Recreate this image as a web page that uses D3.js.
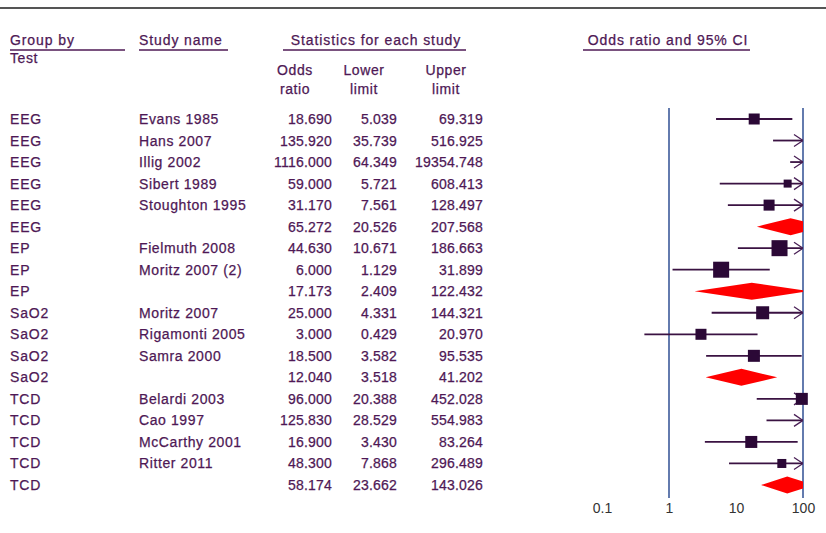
<!DOCTYPE html>
<html>
  <meta charset="utf-8" />
  <head>
    <script src="https://cdnjs.cloudflare.com/ajax/libs/d3/7.8.5/d3.min.js"></script>
    <style>
      body { margin: 0; background: #fff; }
    </style>
  </head>
  <body>
    <script>
    const groups = ["EEG", "EEG", "EEG", "EEG", "EEG", "EEG", "EP", "EP", "EP",
        "SaO2", "SaO2", "SaO2", "SaO2", "TCD", "TCD", "TCD", "TCD", "TCD"];
    const studies = ["Evans 1985", "Hans 2007", "Illig 2002", "Sibert 1989", "Stoughton 1995", "",
        "Fielmuth 2008", "Moritz 2007 (2)", "",
        "Moritz 2007", "Rigamonti 2005", "Samra 2000", "",
        "Belardi 2003", "Cao 1997", "McCarthy 2001", "Ritter 2011", ""];
    const oddsRatio = [18.690, 135.920, 1116.000, 59.000, 31.170, 65.272,
        44.630, 6.000, 17.173,
        25.000, 3.000, 18.500, 12.040,
        96.000, 125.830, 16.900, 48.300, 58.174];
    const lowerLimit = [5.039, 35.739, 64.349, 5.721, 7.561, 20.526,
        10.671, 1.129, 2.409,
        4.331, 0.429, 3.582, 3.518,
        20.388, 28.529, 3.430, 7.868, 23.662];
    const upperLimit = [69.319, 516.925, 19354.748, 608.413, 128.497, 207.568,
        186.663, 31.899, 122.432,
        144.321, 20.970, 95.535, 41.202,
        452.028, 554.983, 83.264, 296.489, 143.026];
    const weights = [121, 100, 100, 64, 121, null,
        256, 256, null,
        169, 121, 144, null,
        144, 100, 144, 81, null];
    const tickValues = [0.1, 1, 10, 100];
    const tickLabels = ["0.1", "1", "10", "100"];

    const width = 826, height = 533;
    const textColor = "#4e1855";
    const font = "Arial, 'Liberation Sans', sans-serif";

    const svg = d3.select("body").append("svg")
        .attr("width", width)
        .attr("height", height)
        .style("font-family", font);

    const rows = groups.map((g, i) => ({
        group: g, study: studies[i], or: oddsRatio[i], lo: lowerLimit[i], hi: upperLimit[i],
        w: weights[i], summary: studies[i] === ""
    }));

    const x = d3.scaleLog().domain([0.1, 100]).range([602, 803]);
    const y = d3.scaleLinear().domain([0, rows.length - 1]).range([119, 485]);
    const size = d3.scaleSqrt().domain([0, 256]).range([0, 16]);

    // makes the text a touch heavier, like the bitmap font of the original
    function ink(sel) {
        return sel.attr("fill", textColor)
            .attr("stroke", textColor)
            .attr("stroke-width", 0.25);
    }

    // top rule
    svg.append("line")
        .attr("x1", 0).attr("x2", width)
        .attr("y1", 8).attr("y2", 8)
        .attr("stroke", "#555").attr("stroke-width", 2.2);

    // headers
    const headers = [
        { text: "Group by", x: 10, x1: 10, x2: 125, anchor: "start" },
        { text: "Study name", x: 139, x1: 139, x2: 228, anchor: "start" },
        { text: "Statistics for each study", x: 376, x1: 283, x2: 466, anchor: "middle" },
        { text: "Odds ratio and 95% CI", x: 668, x1: 583, x2: 750, anchor: "middle" }
    ];
    headers.forEach(h => {
        svg.append("text")
            .attr("x", h.x).attr("y", 45)
            .attr("text-anchor", h.anchor)
            .attr("font-size", 14)
            .attr("letter-spacing", 0.9)
            .call(ink)
            .text(h.text);
        svg.append("line")
            .attr("x1", h.x1).attr("x2", h.x2)
            .attr("y1", 50).attr("y2", 50)
            .attr("stroke", textColor).attr("stroke-width", 1.5);
    });
    svg.append("text")
        .attr("x", 10).attr("y", 63)
        .attr("font-size", 14).attr("letter-spacing", 0.6)
        .call(ink)
        .text("Test");

    const colHeads = [["Odds", "ratio", 295], ["Lower", "limit", 364], ["Upper", "limit", 446]];
    colHeads.forEach(c => {
        [c[0], c[1]].forEach((t, k) => {
            svg.append("text")
                .attr("x", c[2]).attr("y", 75 + k * 19)
                .attr("text-anchor", "middle")
                .attr("font-size", 14).attr("letter-spacing", 0.6)
                .call(ink)
                .text(t);
        });
    });

    // table
    const fmt = d3.format(".3f");
    const table = svg.append("g").attr("font-size", 14).call(ink);
    const tr = table.selectAll("g.row").data(rows).enter().append("g")
        .attr("class", "row")
        .attr("transform", (d, i) => `translate(0,${y(i) + 5})`);
    tr.append("text").attr("x", 10).attr("letter-spacing", 0.8).text(d => d.group);
    tr.append("text").attr("x", 139).attr("letter-spacing", 0.6).text(d => d.study);
    tr.append("text").attr("x", 332).attr("text-anchor", "end").attr("letter-spacing", 0.2).text(d => fmt(d.or));
    tr.append("text").attr("x", 397).attr("text-anchor", "end").attr("letter-spacing", 0.2).text(d => fmt(d.lo));
    tr.append("text").attr("x", 483).attr("text-anchor", "end").attr("letter-spacing", 0.2).text(d => fmt(d.hi));

    // plot
    const plot = svg.append("g");
    svg.append("clipPath").attr("id", "plotclip")
        .append("rect")
        .attr("x", x(0.1)).attr("y", 0)
        .attr("width", x(100) - x(0.1)).attr("height", height);

    [1, 100].forEach(v => {
        plot.append("line")
            .attr("x1", x(v)).attr("x2", x(v))
            .attr("y1", 108).attr("y2", 498)
            .attr("stroke", "#3d5a9a").attr("stroke-width", 1.6);
    });

    const marks = plot.append("g").attr("clip-path", "url(#plotclip)");
    const xmax = x.domain()[1], xmin = x.domain()[0];

    rows.forEach((d, i) => {
        const cy = y(i);
        if (d.summary) {
            const pts = [[x(d.lo), cy], [x(d.or), cy - 8.5], [x(d.hi), cy], [x(d.or), cy + 8.5]];
            marks.append("path")
                .attr("d", d3.line()(pts) + "Z")
                .attr("fill", "#ff0000");
            return;
        }
        const x1 = x(Math.max(d.lo, xmin)), x2 = x(Math.min(d.hi, xmax));
        marks.append("line")
            .attr("x1", x1).attr("x2", x2)
            .attr("y1", cy).attr("y2", cy)
            .attr("stroke", "#3a1242").attr("stroke-width", 1.8);
        if (d.hi > xmax) {
            marks.append("path")
                .attr("d", `M${x2 - 9},${cy - 6}L${x2},${cy}L${x2 - 9},${cy + 6}`)
                .attr("fill", "none")
                .attr("stroke", "#4a2056").attr("stroke-width", 1.3);
        }
        if (d.or <= xmax) {
            const s = size(d.w);
            plot.append("rect")
                .attr("x", x(d.or) - s / 2).attr("y", cy - s / 2)
                .attr("width", s).attr("height", s)
                .attr("fill", "#2b0836");
        }
    });

    // axis labels
    const axis = d3.axisBottom(x)
        .tickValues(tickValues)
        .tickFormat((d, i) => tickLabels[i])
        .tickSize(0)
        .tickPadding(0);
    const ax = svg.append("g").attr("transform", "translate(0,500)").call(axis);
    ax.select(".domain").remove();
    ax.selectAll("text")
        .attr("font-size", 14)
        .attr("font-family", font)
        .attr("fill", "#333")
        .attr("dy", "0.9em");
</script>
</body>
</html>
